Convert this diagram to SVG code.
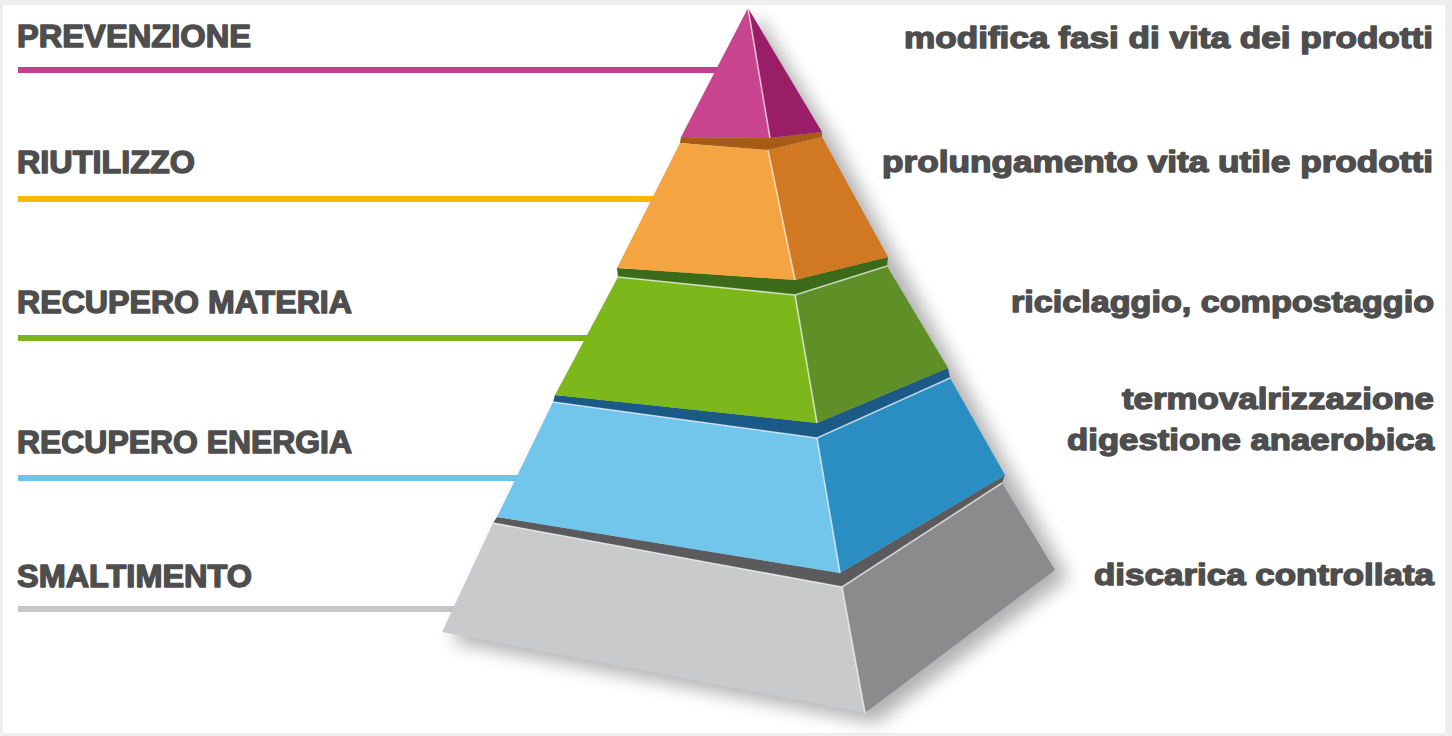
<svg xmlns="http://www.w3.org/2000/svg" width="1452" height="736" viewBox="0 0 1452 736">
<defs>
<filter id="soft" x="-30%" y="-30%" width="160%" height="160%"><feGaussianBlur stdDeviation="9"/></filter>
<linearGradient id="gL" x1="0" y1="0" x2="1" y2="0"><stop offset="0" stop-color="#ffffff" stop-opacity="0"/><stop offset="1" stop-color="#ffffff" stop-opacity="0.08"/></linearGradient>
<style>
.lbl{font-family:"Liberation Sans",Arial,sans-serif;font-weight:bold;font-size:31px;fill:#4e4e4e;stroke:#4e4e4e;stroke-width:1.4px;stroke-linejoin:round;}
.desc{font-family:"Liberation Sans",Arial,sans-serif;font-weight:bold;font-size:30px;fill:#4e4e4e;stroke:#4e4e4e;stroke-width:1.4px;stroke-linejoin:round;}
.conn{fill:none;stroke-width:6;stroke-linecap:butt;}
.hl{fill:none;stroke:#ffffff;stroke-width:1.6;stroke-opacity:0.65;stroke-linejoin:round;}
</style>
</defs>
<rect x="0" y="0" width="1452" height="736" fill="#eeeeee"/>
<rect x="3" y="5" width="1442" height="728" fill="#ffffff"/>

<g id="connectors">
<line class="conn" x1="18" y1="70" x2="722" y2="70" stroke="#c4408c"/>
<line class="conn" x1="18" y1="199" x2="662" y2="199" stroke="#f6b800"/>
<line class="conn" x1="18" y1="338" x2="592" y2="338" stroke="#7ab51d"/>
<line class="conn" x1="18" y1="478" x2="522" y2="478" stroke="#6cc5eb"/>
<line class="conn" x1="18" y1="609" x2="462" y2="609" stroke="#c6c6c6"/>
</g>

<polygon id="shadow" points="758,16 834,140 900,265 960,376 1017,483 1068,578 876,723 452,642 503,531 565,405 628,284 690,150" fill="#000" opacity="0.3" filter="url(#soft)"/>

<g id="smaltimento">
<polygon points="493,523 842,587 1002,483 1005,475 840,573 497,517" fill="#5b5b5d"/>
<polygon points="493,523 842,587 865,713 442,632" fill="#c9cacc"/>
<polygon points="842,587 1002,483 1055,570 865,713" fill="#8b8b8d"/>
<polyline class="hl" points="493,523 842,587 1002,483"/>
<line class="hl" x1="842" y1="587" x2="865" y2="713"/>
<text class="lbl" x="17" y="587" textLength="235" lengthAdjust="spacingAndGlyphs">SMALTIMENTO</text>
<text class="desc" x="1094" y="585" textLength="340" lengthAdjust="spacingAndGlyphs">discarica controllata</text>
</g>

<g id="recupero-energia">
<polygon points="553,402 817,438 950,378 948,368 817,423 555,395" fill="#1b5a86"/>
<polygon points="553,402 817,438 840,573 497,517" fill="#72c6ec"/>
<polygon points="817,438 950,378 1005,475 840,573" fill="#2a8ec3"/>
<polyline class="hl" points="553,402 817,438 950,378"/>
<line class="hl" x1="817" y1="438" x2="840" y2="573"/>
<text class="lbl" x="17" y="453" textLength="335" lengthAdjust="spacingAndGlyphs">RECUPERO ENERGIA</text>
<text class="desc" x="1122" y="409" textLength="312" lengthAdjust="spacingAndGlyphs">termovalrizzazione</text>
<text class="desc" x="1067" y="450" textLength="367" lengthAdjust="spacingAndGlyphs">digestione anaerobica</text>
</g>

<g id="recupero-materia">
<polygon points="618,277 795,295 887,266 888,257 795,280 617,268" fill="#3b6a19"/>
<polygon points="618,277 795,295 817,423 555,395" fill="#7cb71c"/>
<polygon points="795,295 887,266 948,368 817,423" fill="#5f9028"/>
<polyline class="hl" points="618,277 795,295 887,266" stroke="#d8f5a0"/>
<line class="hl" x1="795" y1="295" x2="817" y2="423"/>
<text class="lbl" x="17" y="313" textLength="335" lengthAdjust="spacingAndGlyphs">RECUPERO MATERIA</text>
<text class="desc" x="1011" y="312" textLength="423" lengthAdjust="spacingAndGlyphs">riciclaggio, compostaggio</text>
</g>

<g id="riutilizzo">
<polygon points="680,143 768,150 822,137 822,132 770,138 681,137" fill="#a65c16"/>
<polygon points="680,143 768,150 795,280 617,268" fill="#f4a542"/>
<polygon points="768,150 822,137 888,257 795,280" fill="#d07822"/>
<line class="hl" x1="768" y1="150" x2="795" y2="280" stroke-opacity="0.4"/>
<text class="lbl" x="17" y="173" textLength="178" lengthAdjust="spacingAndGlyphs">RIUTILIZZO</text>
<text class="desc" x="882" y="172" textLength="551" lengthAdjust="spacingAndGlyphs">prolungamento vita utile prodotti</text>
</g>

<g id="prevenzione">
<polygon points="748,8 770,138 681,137" fill="#c9448e"/>
<polygon points="748,8 822,132 770,138" fill="#9a1d68"/>
<line class="hl" x1="748" y1="8" x2="770" y2="138" stroke="#f0a0d0" stroke-opacity="0.7"/>
<text class="lbl" x="17" y="47" textLength="234" lengthAdjust="spacingAndGlyphs">PREVENZIONE</text>
<text class="desc" x="904" y="48" textLength="529" lengthAdjust="spacingAndGlyphs">modifica fasi di vita dei prodotti</text>
</g>
</svg>
